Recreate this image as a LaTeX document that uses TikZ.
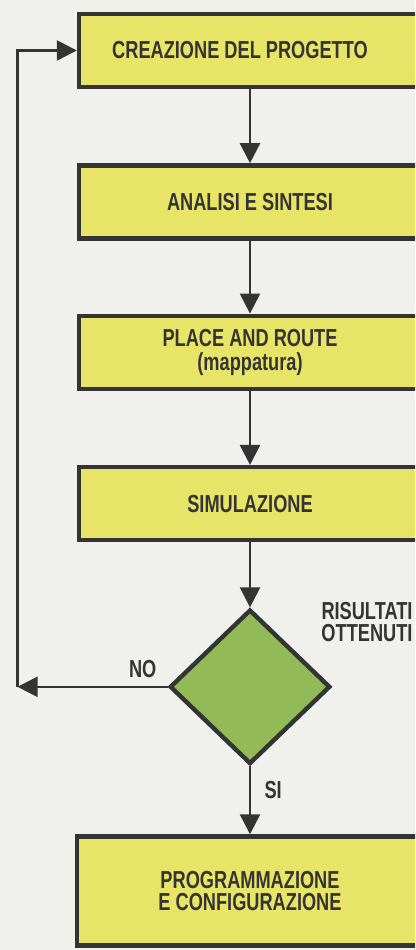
\documentclass[tikz,border=0pt]{standalone}
\usepackage{fontspec}
\setmainfont[FakeStretch=0.74]{Liberation Sans}
\usepackage{tikz}
\usetikzlibrary{positioning,arrows.meta,shapes.geometric}
\definecolor{PaperGrey}{RGB}{240,240,237}
\definecolor{StepYellow}{RGB}{231,228,104}
\definecolor{TestGreen}{RGB}{146,187,88}
\definecolor{InkGrey}{RGB}{52,52,52}

\begin{document}
\begin{tikzpicture}[
      every node/.style={font=\fontsize{14}{13}\selectfont\bfseries, text=InkGrey, align=center},
      box/.style={draw=InkGrey, line width=2.5pt, fill=StepYellow, minimum width=68.4mm, minimum height=14.6mm, inner sep=3pt},
      lastbox/.style={box, minimum width=69.2mm, minimum height=21.8mm},
      check/.style={diamond, draw=InkGrey, line width=2.5pt, fill=TestGreen, minimum width=32.1mm, minimum height=30.9mm, inner sep=0pt},
      arr/.style={-{Triangle[length=4mm, width=4mm]}, draw=InkGrey, line width=1.4pt}
  ]
    \path[use as bounding box, clip] (0,0) rectangle (8.3,19);
    \fill[PaperGrey] (0,0) rectangle (8.3,19);
    \node[box] (cre) at (5.0,17.99) {CREAZIONE DEL PROGETTO\hspace*{4mm}};
    \node[box, below=14.8mm of cre] (ana) {ANALISI E SINTESI};
    \node[box, below=14.6mm of ana] (pnr) {PLACE AND ROUTE\\[0.5pt](mappatura)};
    \node[box, below=14.8mm of pnr] (sim) {SIMULAZIONE};
    \node[check, below=13mm of sim] (dec) {};
    \node[lastbox, below=13.6mm of dec] (prog) {PROGRAMMAZIONE\\E CONFIGURAZIONE};
    \node[font=\fontsize{14}{12.5}\selectfont\bfseries, inner sep=1pt] (ris) at (7.34,6.56) {RISULTATI\\OTTENUTI};
    \node[above left=0.6mm and 1mm of dec.west] (no) {NO};
    \path (dec.west) ++(-3.0,0) coordinate (loopb);
    \coordinate (loopt) at (loopb |- cre.west);
    \draw[arr] (cre) -- (ana);
    \draw[arr] (ana) -- (pnr);
    \draw[arr] (pnr) -- (sim);
    \draw[arr] (sim) -- (dec);
    \draw[arr] (dec) -- node[right=1.5mm, pos=0.35] (si) {SI} (prog);
    \draw[arr] (dec.west) -- (loopb);
    \draw[arr] (loopb) -- (loopt) -- (cre.west);
  \end{tikzpicture}
\end{document}
